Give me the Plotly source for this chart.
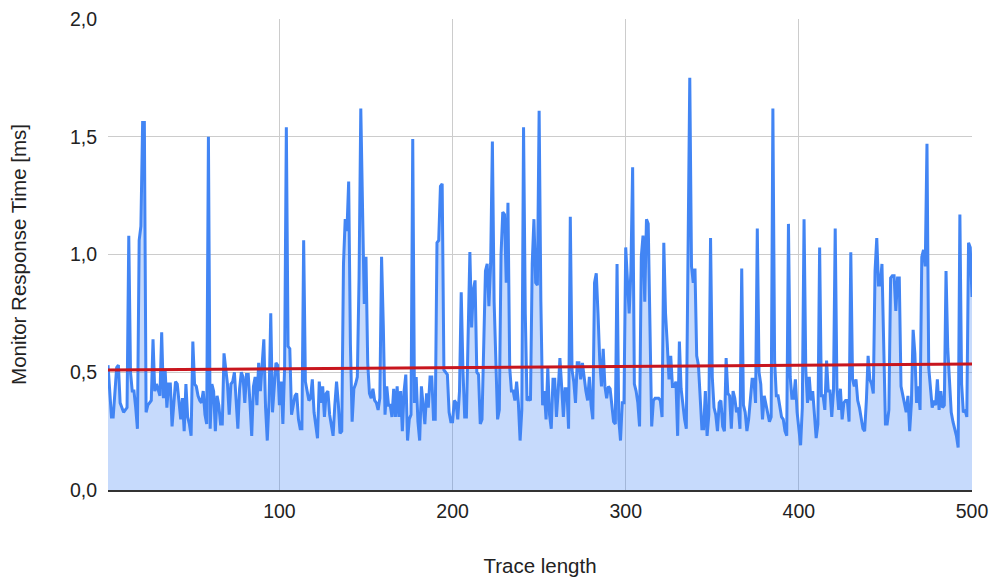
import plotly.graph_objects as go

# Trace length (x) 1..500
trace_length = list(range(1, 501))

# Monitor response time [ms]
response_ms = [
    0.53, 0.42, 0.31, 0.31, 0.42, 0.52, 0.53, 0.37, 0.35, 0.33,
    0.34, 0.35, 1.08, 0.50, 0.42, 0.42, 0.35, 0.26, 1.06, 1.12,
    1.56, 1.56, 0.33, 0.36, 0.37, 0.38, 0.64, 0.42, 0.45, 0.42,
    0.40, 0.67, 0.39, 0.51, 0.35, 0.45, 0.45, 0.27, 0.38, 0.46,
    0.45, 0.38, 0.30, 0.39, 0.25, 0.45, 0.31, 0.28, 0.23, 0.63,
    0.45, 0.44, 0.40, 0.38, 0.37, 0.42, 0.32, 0.28, 1.50, 0.26,
    0.45, 0.42, 0.25, 0.40, 0.36, 0.28, 0.28, 0.58, 0.51, 0.45,
    0.32, 0.45, 0.46, 0.50, 0.38, 0.26, 0.43, 0.50, 0.48, 0.37,
    0.49, 0.49, 0.37, 0.23, 0.44, 0.48, 0.36, 0.54, 0.42, 0.55,
    0.64, 0.35, 0.21, 0.38, 0.75, 0.33, 0.44, 0.54, 0.53, 0.36,
    0.46, 0.28, 0.52, 1.54, 0.61, 0.60, 0.32, 0.37, 0.40, 0.41,
    0.30, 0.26, 0.26, 1.06, 0.46, 0.42, 0.38, 0.39, 0.47, 0.33,
    0.28, 0.22, 0.46, 0.37, 0.44, 0.31, 0.41, 0.42, 0.32, 0.27,
    0.23, 0.36, 0.46, 0.37, 0.24, 0.25, 0.96, 1.15, 1.10, 1.31,
    0.62, 0.29, 0.43, 0.45, 0.48, 0.90, 1.62, 1.20, 0.79, 0.99,
    0.54, 0.41, 0.39, 0.43, 0.38, 0.37, 0.34, 0.39, 0.99, 0.70,
    0.32, 0.44, 0.36, 0.36, 0.31, 0.43, 0.31, 0.44, 0.31, 0.42,
    0.25, 0.42, 0.49, 0.21, 0.30, 0.32, 1.49, 0.37, 0.48, 0.29,
    0.21, 0.44, 0.37, 0.28, 0.41, 0.35, 0.48, 0.48, 0.30, 0.30,
    1.05, 1.06, 1.29, 1.30, 0.51, 0.50, 0.49, 0.33, 0.29, 0.29,
    0.38, 0.37, 0.30, 0.42, 0.84, 0.51, 0.31, 0.31, 0.72, 1.01,
    0.69, 0.85, 0.89, 0.50, 0.49, 0.28, 0.30, 0.68, 0.93, 0.96,
    0.78, 0.96, 1.48, 0.80, 0.51, 0.30, 0.34, 1.00, 1.18, 1.17,
    0.88, 1.22, 0.52, 0.42, 0.42, 0.38, 0.46, 0.37, 0.21, 0.34,
    1.54, 0.75, 0.38, 0.39, 0.38, 0.96, 1.15, 0.88, 0.87, 1.61,
    0.80, 0.36, 0.42, 0.30, 0.52, 0.32, 0.26, 0.47, 0.47, 0.31,
    0.42, 0.56, 0.44, 0.31, 0.43, 0.43, 0.26, 1.16, 0.51, 0.46,
    0.37, 0.54, 0.54, 0.47, 0.54, 0.47, 0.42, 0.38, 0.48, 0.36,
    0.30, 0.88, 0.92, 0.75, 0.55, 0.44, 0.60, 0.44, 0.39, 0.44,
    0.43, 0.36, 0.29, 0.28, 0.96, 0.30, 0.21, 0.37, 0.37, 1.03,
    0.88, 0.75, 0.93, 1.37, 0.45, 0.42, 0.37, 0.27, 0.99, 1.08,
    0.80, 1.15, 1.13, 0.75, 0.27, 0.38, 0.39, 0.39, 0.39, 0.38,
    0.31, 1.05, 0.75, 0.62, 0.47, 0.57, 0.44, 0.44, 0.46, 0.23,
    0.63, 0.43, 0.36, 0.30, 0.26, 1.05, 1.75, 0.95, 0.88, 0.94,
    0.57, 0.53, 0.37, 0.26, 0.26, 0.42, 0.23, 0.32, 1.07, 0.48,
    0.35, 0.32, 0.25, 0.37, 0.38, 0.27, 0.25, 0.56, 0.41, 0.40,
    0.26, 0.42, 0.39, 0.33, 0.35, 0.26, 0.94, 0.36, 0.33, 0.25,
    0.30, 0.37, 0.47, 0.47, 0.37, 1.11, 0.50, 0.45, 0.30, 0.40,
    0.36, 0.32, 0.29, 0.31, 1.62, 0.55, 0.40, 0.40, 0.36, 0.31,
    0.30, 0.25, 0.23, 1.13, 0.48, 0.39, 0.39, 0.47, 0.33, 0.26,
    0.19, 0.35, 1.15, 0.51, 0.37, 0.48, 0.38, 0.42, 0.31, 0.22,
    0.28, 1.03, 0.40, 0.40, 0.34, 0.55, 0.42, 0.42, 0.31, 0.42,
    1.11, 0.43, 0.34, 0.43, 0.30, 0.37, 0.38, 0.38, 0.29, 1.01,
    0.47, 0.44, 0.47, 0.38, 0.35, 0.30, 0.26, 0.25, 0.38, 0.57,
    0.47, 0.45, 0.41, 0.93, 1.07, 0.87, 0.87, 0.96, 0.57, 0.28,
    0.28, 0.34, 0.90, 0.91, 0.91, 0.76, 0.90, 0.90, 0.44, 0.40,
    0.36, 0.33, 0.40, 0.25, 0.37, 0.68, 0.58, 0.37, 0.44, 0.34,
    0.99, 1.02, 0.95, 1.47, 0.52, 0.44, 0.35, 0.38, 0.36, 0.47,
    0.34, 0.42, 0.35, 0.36, 0.93, 0.60, 0.43, 0.33, 0.29, 0.26,
    0.23, 0.18, 1.17, 0.45, 0.33, 0.34, 0.31, 1.05, 1.03, 0.82,
]

# Linear trendline endpoints
trend_x = [1, 500]
trend_y = [0.51, 0.535]

y_ticks = [0, 0.5, 1.0, 1.5, 2.0]
x_ticks = [100, 200, 300, 400, 500]

FONT = "Liberation Sans, Arial, sans-serif"
FS = 19.5
FT = 20.5
TXT = "#222222"

fig = go.Figure()
fig.add_trace(go.Scatter(
    x=trace_length, y=response_ms, mode="lines",
    line=dict(color="#4285F4", width=3),
    fill="tozeroy", fillcolor="rgba(66,133,244,0.30)",
    hoverinfo="x+y", showlegend=False,
))
fig.add_trace(go.Scatter(
    x=trend_x, y=trend_y, mode="lines",
    line=dict(color="#C8161E", width=3),
    showlegend=False,
))

fig.update_layout(
    width=990, height=577,
    margin=dict(l=108, r=18, t=19, b=87, autoexpand=False),
    paper_bgcolor="white", plot_bgcolor="white",
    separators=", ",
    font=dict(family=FONT, size=FS, color=TXT),
    xaxis=dict(
        range=[1, 500], tickvals=x_ticks, showgrid=True,
        gridcolor="#cccccc", gridwidth=1, zeroline=False,
        showline=True, linecolor="#333333", linewidth=1.5,
        ticks="", ticklabelstandoff=3, automargin=False,
        tickfont=dict(family=FONT, size=FS, color=TXT),
        title=dict(text="Trace length", standoff=39,
                   font=dict(family=FONT, size=FT, color=TXT)),
    ),
    yaxis=dict(
        range=[0, 2.0], tickvals=y_ticks, tickformat=".1f",
        showgrid=True, gridcolor="#cccccc", gridwidth=1,
        zeroline=False, showline=False, ticks="",
        ticklabelstandoff=10, automargin=False,
        tickfont=dict(family=FONT, size=FS, color=TXT),
        title=dict(text="Monitor Response Time [ms]", standoff=37,
                   font=dict(family=FONT, size=FT, color=TXT)),
    ),
)

fig.write_html(
    "out.html",
    config={"displayModeBar": False},
    post_script="document.body.style.margin='0';document.body.style.overflow='hidden';",
)
